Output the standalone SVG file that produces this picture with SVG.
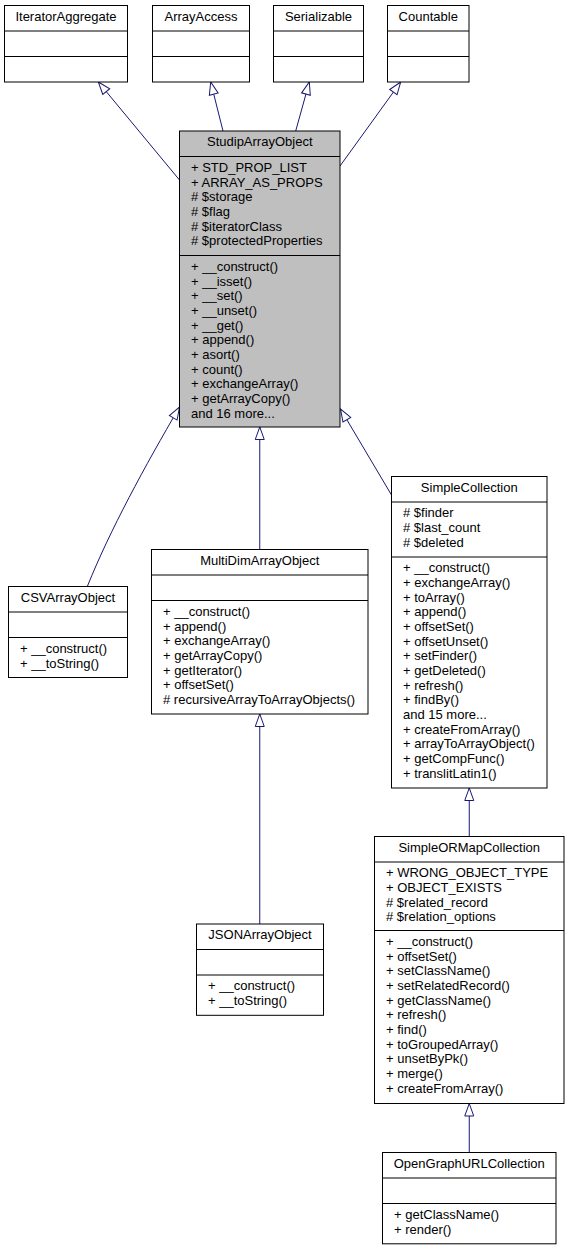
<svg xmlns="http://www.w3.org/2000/svg" width="569" height="1249" viewBox="0 0 569 1249">
<style>
.box{fill:#ffffff;stroke:#000000;stroke-width:1}
.hl{fill:#bfbfbf}
.sep{stroke:#000000;stroke-width:1}
.t{font-family:"Liberation Sans",Arial,Helvetica,sans-serif;font-size:13px;fill:#000000}
.c{text-anchor:middle}
.edge{fill:none;stroke:#191970;stroke-width:1;marker-end:url(#arrow)}
</style>
<defs>
<marker id="arrow" viewBox="0 0 14 10" markerUnits="userSpaceOnUse" markerWidth="14" markerHeight="10" refX="13" refY="5" orient="auto" overflow="visible">
<path d="M0.5,0.5 L13,5 L0.5,9.5 Z" fill="#ffffff" stroke="#191970" stroke-width="1"/>
</marker>
</defs>
<rect width="569" height="1249" fill="#ffffff"/>
<g id="connectors">
<path class="edge" d="M179.5,180 L98.3,82"/>
<path class="edge" d="M223,131 L210.7,82"/>
<path class="edge" d="M295.7,131 L309.3,82"/>
<path class="edge" d="M340,166 L400.7,82"/>
<path class="edge" d="M87.3,586.5 C110,530 145,466 179.5,407"/>
<path class="edge" d="M259.75,549.5 L259.75,427"/>
<path class="edge" d="M391.5,495 L340.5,409"/>
<path class="edge" d="M469.25,836.5 L469.25,788"/>
<path class="edge" d="M469.25,1152.5 L469.25,1103.5"/>
<path class="edge" d="M259.75,924 L259.75,714"/>
</g>
<g id="IteratorAggregate">
<rect class="box" x="4.5" y="5.5" width="123" height="76.5"/>
<line class="sep" x1="4.5" y1="31" x2="127.5" y2="31"/>
<line class="sep" x1="4.5" y1="56.5" x2="127.5" y2="56.5"/>
<text class="t c" x="66" y="20.8">IteratorAggregate</text>
</g>
<g id="ArrayAccess">
<rect class="box" x="152.5" y="5.5" width="97" height="76.5"/>
<line class="sep" x1="152.5" y1="31" x2="249.5" y2="31"/>
<line class="sep" x1="152.5" y1="56.5" x2="249.5" y2="56.5"/>
<text class="t c" x="201" y="20.8">ArrayAccess</text>
</g>
<g id="Serializable">
<rect class="box" x="273.5" y="5.5" width="90" height="76.5"/>
<line class="sep" x1="273.5" y1="31" x2="363.5" y2="31"/>
<line class="sep" x1="273.5" y1="56.5" x2="363.5" y2="56.5"/>
<text class="t c" x="318.5" y="20.8">Serializable</text>
</g>
<g id="Countable">
<rect class="box" x="387.5" y="5.5" width="81.5" height="76.5"/>
<line class="sep" x1="387.5" y1="31" x2="469" y2="31"/>
<line class="sep" x1="387.5" y1="56.5" x2="469" y2="56.5"/>
<text class="t c" x="428.25" y="20.8">Countable</text>
</g>
<g id="StudipArrayObject">
<rect class="box hl" x="179.5" y="131" width="160.5" height="296"/>
<line class="sep" x1="179.5" y1="156.5" x2="340" y2="156.5"/>
<line class="sep" x1="179.5" y1="255.5" x2="340" y2="255.5"/>
<text class="t c" x="259.75" y="146.3">StudipArrayObject</text>
<text class="t" x="191" y="171.8">+ STD_PROP_LIST</text>
<text class="t" x="191" y="186.5">+ ARRAY_AS_PROPS</text>
<text class="t" x="191" y="201.1"># $storage</text>
<text class="t" x="191" y="215.8"># $flag</text>
<text class="t" x="191" y="230.5"># $iteratorClass</text>
<text class="t" x="191" y="245.2"># $protectedProperties</text>
<text class="t" x="191" y="270.8">+ __construct()</text>
<text class="t" x="191" y="285.5">+ __isset()</text>
<text class="t" x="191" y="300.1">+ __set()</text>
<text class="t" x="191" y="314.8">+ __unset()</text>
<text class="t" x="191" y="329.5">+ __get()</text>
<text class="t" x="191" y="344.2">+ append()</text>
<text class="t" x="191" y="358.8">+ asort()</text>
<text class="t" x="191" y="373.5">+ count()</text>
<text class="t" x="191" y="388.2">+ exchangeArray()</text>
<text class="t" x="191" y="402.8">+ getArrayCopy()</text>
<text class="t" x="191" y="417.5">and 16 more...</text>
</g>
<g id="CSVArrayObject">
<rect class="box" x="8.5" y="586.5" width="119" height="91"/>
<line class="sep" x1="8.5" y1="612" x2="127.5" y2="612"/>
<line class="sep" x1="8.5" y1="637.5" x2="127.5" y2="637.5"/>
<text class="t c" x="68" y="601.8">CSVArrayObject</text>
<text class="t" x="20" y="652.8">+ __construct()</text>
<text class="t" x="20" y="667.5">+ __toString()</text>
</g>
<g id="MultiDimArrayObject">
<rect class="box" x="151.5" y="549.5" width="216.5" height="164.5"/>
<line class="sep" x1="151.5" y1="575" x2="368" y2="575"/>
<line class="sep" x1="151.5" y1="600.5" x2="368" y2="600.5"/>
<text class="t c" x="259.75" y="564.8">MultiDimArrayObject</text>
<text class="t" x="163" y="615.8">+ __construct()</text>
<text class="t" x="163" y="630.5">+ append()</text>
<text class="t" x="163" y="645.1">+ exchangeArray()</text>
<text class="t" x="163" y="659.8">+ getArrayCopy()</text>
<text class="t" x="163" y="674.5">+ getIterator()</text>
<text class="t" x="163" y="689.2">+ offsetSet()</text>
<text class="t" x="163" y="703.8"># recursiveArrayToArrayObjects()</text>
</g>
<g id="JSONArrayObject">
<rect class="box" x="196.5" y="924" width="127" height="91.3"/>
<line class="sep" x1="196.5" y1="949.5" x2="323.5" y2="949.5"/>
<line class="sep" x1="196.5" y1="975" x2="323.5" y2="975"/>
<text class="t c" x="260" y="939.3">JSONArrayObject</text>
<text class="t" x="208" y="990.3">+ __construct()</text>
<text class="t" x="208" y="1005">+ __toString()</text>
</g>
<g id="SimpleCollection">
<rect class="box" x="391.5" y="476.5" width="155.5" height="311.5"/>
<line class="sep" x1="391.5" y1="502" x2="547" y2="502"/>
<line class="sep" x1="391.5" y1="557" x2="547" y2="557"/>
<text class="t c" x="469.25" y="491.8">SimpleCollection</text>
<text class="t" x="403" y="517.3"># $finder</text>
<text class="t" x="403" y="532"># $last_count</text>
<text class="t" x="403" y="546.6"># $deleted</text>
<text class="t" x="403" y="572.3">+ __construct()</text>
<text class="t" x="403" y="587">+ exchangeArray()</text>
<text class="t" x="403" y="601.6">+ toArray()</text>
<text class="t" x="403" y="616.3">+ append()</text>
<text class="t" x="403" y="631">+ offsetSet()</text>
<text class="t" x="403" y="645.7">+ offsetUnset()</text>
<text class="t" x="403" y="660.3">+ setFinder()</text>
<text class="t" x="403" y="675">+ getDeleted()</text>
<text class="t" x="403" y="689.7">+ refresh()</text>
<text class="t" x="403" y="704.3">+ findBy()</text>
<text class="t" x="403" y="719">and 15 more...</text>
<text class="t" x="403" y="733.7">+ createFromArray()</text>
<text class="t" x="403" y="748.3">+ arrayToArrayObject()</text>
<text class="t" x="403" y="763">+ getCompFunc()</text>
<text class="t" x="403" y="777.7">+ translitLatin1()</text>
</g>
<g id="SimpleORMapCollection">
<rect class="box" x="374.5" y="836.5" width="189.5" height="267"/>
<line class="sep" x1="374.5" y1="862" x2="564" y2="862"/>
<line class="sep" x1="374.5" y1="930.5" x2="564" y2="930.5"/>
<text class="t c" x="469.25" y="851.8">SimpleORMapCollection</text>
<text class="t" x="386" y="877.3">+ WRONG_OBJECT_TYPE</text>
<text class="t" x="386" y="892">+ OBJECT_EXISTS</text>
<text class="t" x="386" y="906.6"># $related_record</text>
<text class="t" x="386" y="921.3"># $relation_options</text>
<text class="t" x="386" y="945.8">+ __construct()</text>
<text class="t" x="386" y="960.5">+ offsetSet()</text>
<text class="t" x="386" y="975.1">+ setClassName()</text>
<text class="t" x="386" y="989.8">+ setRelatedRecord()</text>
<text class="t" x="386" y="1004.5">+ getClassName()</text>
<text class="t" x="386" y="1019.2">+ refresh()</text>
<text class="t" x="386" y="1033.8">+ find()</text>
<text class="t" x="386" y="1048.5">+ toGroupedArray()</text>
<text class="t" x="386" y="1063.2">+ unsetByPk()</text>
<text class="t" x="386" y="1077.8">+ merge()</text>
<text class="t" x="386" y="1092.5">+ createFromArray()</text>
</g>
<g id="OpenGraphURLCollection">
<rect class="box" x="382.5" y="1152.5" width="173.5" height="91.3"/>
<line class="sep" x1="382.5" y1="1178" x2="556" y2="1178"/>
<line class="sep" x1="382.5" y1="1203.5" x2="556" y2="1203.5"/>
<text class="t c" x="469.25" y="1167.8">OpenGraphURLCollection</text>
<text class="t" x="394" y="1218.8">+ getClassName()</text>
<text class="t" x="394" y="1233.5">+ render()</text>
</g>
</svg>
